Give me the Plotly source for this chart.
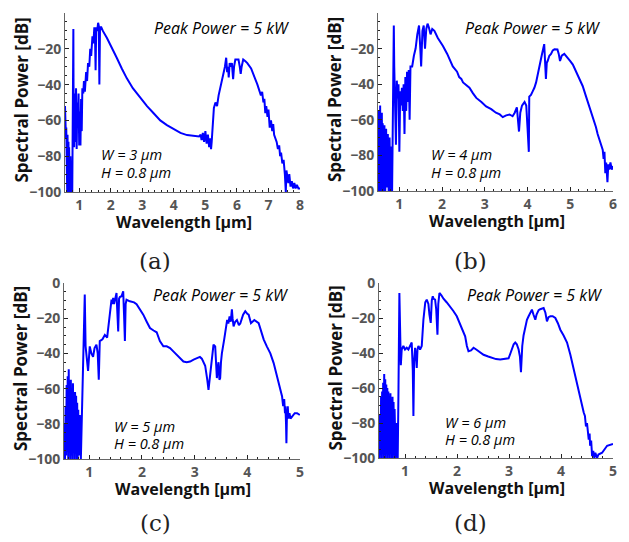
import plotly.graph_objects as go

# ---------------- data (wavelength in um, spectral power in dB) ----------------
wl_a = [0.55,0.56,0.57,0.58,0.59,0.60,0.61,0.62,0.63,0.64,0.65,0.66,0.67,0.68,0.70,0.72,0.74,0.76,0.78,0.80,
        0.815,0.82,0.84,0.86,0.88,0.90,0.92,0.94,0.96,0.98,1.00,1.02,1.04,1.06,1.08,1.10,1.13,1.15,1.18,1.22,
        1.25,1.28,1.32,1.35,1.38,1.42,1.45,1.48,1.50,1.52,1.54,1.57,1.60,1.62,1.64,1.66,1.70,1.75,1.88,2.00,
        2.19,2.35,2.51,2.70,2.94,3.15,3.36,3.57,3.78,4.00,4.21,4.42,4.63,4.80,4.85,4.88,4.92,4.96,5.00,5.04,
        5.08,5.12,5.15,5.18,5.20,5.23,5.27,5.32,5.37,5.42,5.48,5.53,5.58,5.62,5.66,5.69,5.72,5.74,5.77,5.80,
        5.84,5.88,5.91,5.95,6.00,6.05,6.09,6.12,6.15,6.20,6.27,6.33,6.45,6.54,6.65,6.76,6.80,6.84,6.87,6.90,
        6.93,6.97,7.00,7.04,7.08,7.12,7.15,7.18,7.22,7.26,7.30,7.34,7.37,7.40,7.44,7.48,7.52,7.55,7.57,7.60,
        7.63,7.66,7.70,7.74,7.78,7.82,7.86,7.90,7.95,8.00]
db_a = [-52,-62,-58,-70,-64,-95,-66,-100,-68,-85,-100,-72,-100,-75,-100,-80,-100,-90,-100,-60,
        -9,-40,-75,-45,-72,-42,-76,-50,-62,-45,-74,-55,-74,-48,-66,-42,-45,-38,-44,-33,
        -38,-28,-30,-20,-24,-13,-17,-8,-12,-32,-8,-10,-5.5,-7,-40,-8,-8,-10,-14,-18,
        -25,-31,-36.5,-42,-47.7,-52,-56,-60,-62.6,-65,-67,-68.2,-68.8,-69,-68,-71,-67,-72,-66,-73,
        -68,-75,-70,-76,-72,-60,-53,-50,-52,-46,-41,-37,-34,-30,-25,-33,-30,-36,-28,-30,
        -28,-37,-30,-26,-26,-26,-30,-34,-30,-26,-27,-28,-31,-34.6,-40,-46,-44,-50,-48,-56,
        -52,-58,-54,-64,-60,-66,-62,-68,-70,-72,-76,-74,-80,-78,-84,-82,-90,-100,-88,-92,
        -95,-90,-97,-94,-98,-95,-98,-96,-98,-98]

wl_b = [0.50,0.51,0.52,0.53,0.54,0.55,0.56,0.57,0.58,0.59,0.60,0.61,0.63,0.65,0.67,0.69,0.71,0.73,0.75,0.77,
        0.79,0.81,0.83,0.85,0.87,0.88,0.89,0.90,0.92,0.94,0.96,0.98,1.00,1.02,1.04,1.06,1.08,1.10,1.12,1.14,
        1.16,1.18,1.20,1.22,1.24,1.26,1.30,1.34,1.38,1.42,1.46,1.49,1.51,1.54,1.57,1.60,1.63,1.66,1.69,1.73,
        1.77,1.82,1.90,2.02,2.12,2.25,2.35,2.40,2.45,2.49,2.55,2.64,2.72,2.80,2.92,3.03,3.15,3.26,3.35,3.42,
        3.50,3.58,3.65,3.70,3.75,3.80,3.83,3.87,3.93,3.97,4.00,4.03,4.04,4.08,4.12,4.16,4.20,4.24,4.28,4.33,
        4.39,4.41,4.43,4.45,4.47,4.51,4.55,4.59,4.63,4.70,4.73,4.76,4.80,4.86,4.94,5.00,5.06,5.13,5.21,5.29,
        5.37,5.45,5.52,5.60,5.64,5.68,5.72,5.76,5.78,5.80,5.82,5.84,5.87,5.89,5.91,5.94,5.97,6.00]
db_b = [-95,-55,-100,-60,-98,-52,-100,-65,-95,-56,-100,-62,-100,-63,-100,-65,-98,-68,-100,-70,
        -100,-75,-100,-60,-7,-30,-45,-37,-74,-38,-48,-40,-78,-44,-52,-42,-55,-40,-68,-36,
        -55,-33,-50,-32,-60,-30,-30,-24,-20,-12,-7,-20,-30,-10,-7,-20,-9,-6,-8,-12,
        -9,-10,-14,-18.5,-23,-30,-33,-36,-37,-39,-40,-42,-45,-47.7,-50,-52.5,-54,-56,-57,-58.5,
        -57.5,-57,-58,-56,-53,-66.6,-56,-52,-50,-52,-64.7,-78,-47,-46,-44,-42,-39,-34,-30,-24,
        -17.5,-25,-37,-28,-27,-24,-23,-21,-20.4,-20.5,-23,-27,-24,-23,-25,-27,-29,-32.6,-37,-41,
        -47,-52.5,-58,-64,-68,-71,-74,-77,-82,-78,-90,-84,-95,-85,-88,-84,-88,-86]

wl_c = [0.52,0.53,0.54,0.55,0.56,0.57,0.58,0.59,0.60,0.61,0.62,0.63,0.64,0.65,0.66,0.67,0.68,0.69,0.70,0.71,
        0.72,0.73,0.74,0.75,0.76,0.77,0.78,0.79,0.80,0.82,0.84,0.86,0.87,0.89,0.914,0.93,0.977,1.009,1.04,1.072,
        1.10,1.136,1.16,1.18,1.199,1.25,1.295,1.339,1.39,1.422,1.44,1.453,1.47,1.485,1.517,1.53,1.549,1.565,1.58,1.612,
        1.644,1.66,1.676,1.69,1.707,1.771,1.85,1.898,1.96,2.025,2.09,2.152,2.22,2.279,2.34,2.406,2.47,2.533,2.60,2.66,
        2.72,2.787,2.85,2.914,2.98,3.041,3.10,3.136,3.20,3.24,3.263,3.28,3.307,3.33,3.358,3.39,3.41,3.422,3.44,3.453,
        3.47,3.485,3.50,3.517,3.561,3.60,3.617,3.64,3.663,3.685,3.707,3.72,3.739,3.77,3.803,3.84,3.866,3.92,3.961,4.00,
        4.025,4.069,4.133,4.215,4.26,4.31,4.37,4.437,4.50,4.55,4.596,4.63,4.66,4.68,4.70,4.715,4.723,4.735,4.742,4.75,
        4.768,4.78,4.80,4.82,4.85,4.90,4.945,4.996]
db_c = [-100,-80,-100,-70,-98,-58,-96,-53,-100,-49,-96,-56,-100,-55,-98,-60,-100,-57,-95,-62,
        -100,-62,-96,-64,-100,-68,-100,-72,-98,-75,-100,-72,-62,-30,-6.6,-36,-50,-36,-40,-42,
        -37,-35,-40,-55,-33,-32,-29.5,-31,-17,-9.5,-12,-8.5,-12,-10,-5.7,-15,-27.5,-9,-8,-7.5,
        -4.7,-18,-33,-12,-9.5,-10.4,-11,-12,-15,-18,-22,-25.6,-27,-28,-33,-36,-36,-37,-39,-40.8,
        -43,-44.6,-45,-44.6,-43.5,-42.7,-42,-43,-47,-55,-60.7,-56,-49,-40,-35,-36,-45,-54,-48,-45,
        -55,-54,-45,-40,-32,-24,-21,-23,-19,-22,-15,-20,-24.7,-22,-21,-24,-23,-18,-16,-17.5,
        -18,-22.8,-21,-22.8,-27,-32,-36,-40,-45.5,-51,-57,-60,-64.5,-70,-66,-74,-70,-80,-91,-78,
        -70,-77,-74,-77,-76,-74,-74,-75]

wl_d = [0.50,0.51,0.52,0.53,0.54,0.55,0.56,0.57,0.58,0.59,0.60,0.61,0.62,0.63,0.64,0.65,0.66,0.67,0.68,0.69,
        0.70,0.71,0.72,0.73,0.74,0.75,0.76,0.77,0.78,0.79,0.80,0.82,0.84,0.86,0.875,0.892,0.905,0.92,0.937,0.969,
        1.00,1.033,1.065,1.097,1.129,1.15,1.162,1.175,1.194,1.21,1.226,1.24,1.258,1.29,1.322,1.354,1.39,1.418,1.435,1.45,
        1.47,1.495,1.515,1.534,1.55,1.579,1.60,1.624,1.64,1.662,1.70,1.74,1.80,1.868,1.93,1.996,2.05,2.093,2.157,2.19,
        2.221,2.27,2.318,2.37,2.414,2.46,2.51,2.60,2.671,2.75,2.831,2.91,2.992,3.03,3.056,3.09,3.12,3.15,3.185,3.21,
        3.23,3.245,3.255,3.28,3.313,3.345,3.377,3.41,3.441,3.47,3.506,3.53,3.57,3.60,3.634,3.666,3.70,3.73,3.76,3.795,
        3.84,3.891,3.94,3.987,4.05,4.116,4.18,4.244,4.29,4.34,4.39,4.437,4.46,4.48,4.50,4.533,4.55,4.56,4.58,4.598,
        4.62,4.64,4.66,4.68,4.694,4.72,4.79,4.887,5.00]
db_d = [-85,-100,-75,-98,-65,-100,-62,-96,-57,-100,-52,-98,-55,-100,-58,-96,-60,-100,-62,-98,
        -65,-100,-63,-97,-67,-100,-65,-98,-68,-100,-72,-100,-80,-100,-60,-5.7,-25,-47,-38,-36,
        -38,-37,-38,-36,-34,-50,-76,-45,-37,-42,-48.6,-38,-36,-38,-36,-21,-11,-9.5,-11,-12,
        -18,-22.8,-10,-7.6,-9,-9.5,-15,-29.5,-12,-5.7,-7,-9,-11,-13.3,-16,-19,-23,-26.7,-30.5,-36,
        -39,-38.5,-37,-38,-39,-40,-41,-42,-42.9,-43.5,-43.7,-43.5,-43,-40,-38,-35,-34,-35,-38,-42,
        -51,-42,-36,-30,-24.8,-21,-19,-17,-15.2,-18,-21,-18,-15.5,-15,-14.5,-14.3,-17,-21.9,-19.5,-19,
        -19,-20,-23,-26.7,-30,-34,-41,-49.5,-55,-61,-67,-74,-76,-82,-80,-89.5,-86,-93,-90,-99,
        -96,-100,-97,-100,-100,-98,-97,-93,-92]

widths = ["3", "4", "5", "6"]
height_um = "0.8"
peak_label = "Peak Power = 5 kW"
panel_tags = ["(a)", "(b)", "(c)", "(d)"]
x_ranges = [[0.55, 8], [0.5, 6], [0.52, 5], [0.5, 5]]
y_ticks = [0, -20, -40, -60, -80, -100]

series = [(wl_a, db_a), (wl_b, db_b), (wl_c, db_c), (wl_d, db_d)]

# ---------------- layout geometry (pixels of the target picture) ----------------
W, H = 629, 542
OFF = 8  # page body margin of the browser: shift figure content to compensate
boxes = [(65, 300, 13, 192), (378, 613, 13, 191), (64, 300, 283, 459), (379, 613, 283, 458)]
tag_pos = [(155, 261), (470, 261), (155, 523), (470, 523)]
peak_off = [(156, 15), (154, 15), (156, 12), (155, 12)]
wh_off = [(34, 141, 159), (51, 141, 159), (48, 143, 160), (64, 139, 156)]

def px(x):
    return (x - OFF) / W

def py(y):
    return 1 - (y - OFF) / H

fig = go.Figure()
tickfont = dict(family="Open Sans", size=14, color="#555555", weight="bold")
itfont = dict(family="Open Sans", size=14.5, color="#000", style="italic")

for i, ((xs, ys), (x0, x1, y0, y1)) in enumerate(zip(series, boxes)):
    n = "" if i == 0 else str(i + 1)
    fig.add_trace(go.Scatter(x=xs, y=ys, mode="lines", xaxis="x" + n, yaxis="y" + n,
                             line=dict(color="#0000ff", width=2), showlegend=False,
                             hoverinfo="skip"))
    fig.layout["xaxis" + n] = dict(
        domain=[px(x0), px(x1)], range=x_ranges[i], anchor="y" + n, dtick=1, tick0=0,
        ticks="inside", ticklen=4, tickcolor="#222", showgrid=False, zeroline=False,
        showline=True, linecolor="#666", linewidth=1, tickfont=tickfont, automargin=False,
        minor=dict(dtick=0.2, tick0=0, ticks="inside", ticklen=2, tickcolor="#222"))
    fig.layout["yaxis" + n] = dict(
        domain=[py(y1), py(y0)], range=[-100, 0], anchor="x" + n, tickvals=y_ticks,
        ticks="inside", ticklen=4, tickcolor="#222", showgrid=False, zeroline=False,
        showline=True, linecolor="#666", linewidth=1, tickfont=tickfont, automargin=False,
        minor=dict(dtick=5, tick0=0, ticks="inside", ticklen=2, tickcolor="#222"))

    cx = (x0 + x1) / 2
    cy = (y0 + y1) / 2
    fig.add_annotation(x=px(x0 - 44), y=py(cy - 2), xref="paper", yref="paper",
                       xanchor="center", yanchor="middle",
                       text="Spectral Power [dB]", textangle=-90, showarrow=False,
                       font=dict(family="Open Sans", size=17, color="#111", weight="bold"))
    fig.add_annotation(x=px(cx + 1), y=py(y1 + 30), xref="paper", yref="paper",
                       xanchor="center", yanchor="middle",
                       text="Wavelength [μm]", showarrow=False,
                       font=dict(family="Open Sans", size=16, color="#111", weight="bold"))
    fig.add_annotation(x=px(x0 + peak_off[i][0]), y=py(y0 + peak_off[i][1]),
                       xref="paper", yref="paper", xanchor="center", yanchor="middle",
                       text=peak_label, showarrow=False,
                       font=dict(family="Open Sans", size=16, color="#000", style="italic"))
    fig.add_annotation(x=px(x0 + wh_off[i][0]), y=py(y0 + wh_off[i][1]), xref="paper", yref="paper",
                       xanchor="left", yanchor="middle",
                       text="W = " + widths[i] + " μm", showarrow=False, font=itfont)
    fig.add_annotation(x=px(x0 + wh_off[i][0]), y=py(y0 + wh_off[i][2]), xref="paper", yref="paper",
                       xanchor="left", yanchor="middle",
                       text="H = " + height_um + " μm", showarrow=False, font=itfont)
    fig.add_annotation(x=px(tag_pos[i][0]), y=py(tag_pos[i][1]), xref="paper", yref="paper",
                       xanchor="center", yanchor="middle",
                       text=panel_tags[i], showarrow=False,
                       font=dict(family="DejaVu Serif", size=23, color="#222"))

fig.update_layout(width=W, height=H, margin=dict(l=0, r=0, t=0, b=0, autoexpand=False),
                  paper_bgcolor="white", plot_bgcolor="white")
fig.write_html("out.html")
